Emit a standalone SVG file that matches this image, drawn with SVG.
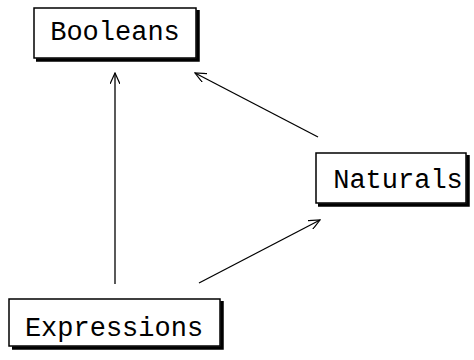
<svg xmlns="http://www.w3.org/2000/svg" width="474" height="360" viewBox="0 0 474 360">
<defs>
<style>
.box{fill:#fff;stroke:#000;stroke-width:1.5}
.sh{fill:none;stroke:#000;stroke-width:3.5}
.lbl{font-family:"Liberation Mono","DejaVu Sans Mono",monospace;font-size:27px;fill:#000}
.edge{fill:none;stroke:#000;stroke-width:1.3;marker-end:url(#ah)}
</style>
<marker id="ah" viewBox="0 0 12 10" refX="11" refY="5" markerWidth="12" markerHeight="10" markerUnits="userSpaceOnUse" orient="auto">
<path d="M0,0 L11,5 L0,10" fill="none" stroke="#000" stroke-width="1.2"/>
</marker>
</defs>
<g id="connectors">
<line class="edge" x1="115" y1="284" x2="115" y2="73"/>
<line class="edge" x1="318" y1="137" x2="195" y2="73"/>
<line class="edge" x1="199" y1="283" x2="320" y2="220"/>
</g>
<g id="booleans">
<polyline class="sh" points="198,10 198,60 36,60"/>
<rect class="box" x="34" y="8" width="162" height="50"/>
<text class="lbl" x="115" y="40" text-anchor="middle">Booleans</text>
</g>
<g id="naturals">
<polyline class="sh" points="468,155 468,205 318,205"/>
<rect class="box" x="316" y="153" width="150" height="50"/>
<text class="lbl" x="398" y="188" text-anchor="middle">Naturals</text>
</g>
<g id="expressions">
<polyline class="sh" points="222,301 222,348 12,348"/>
<rect class="box" x="9" y="299" width="211" height="47"/>
<text class="lbl" x="114" y="336" text-anchor="middle">Expressions</text>
</g>
</svg>
